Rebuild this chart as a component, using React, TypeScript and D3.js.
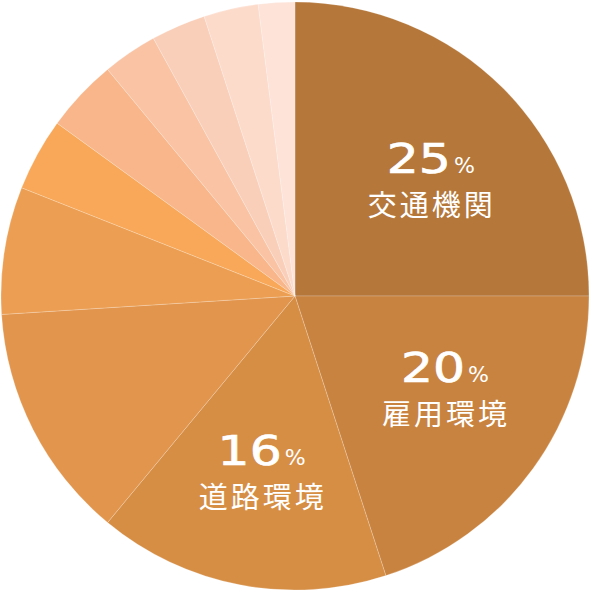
import React from "react";
import * as d3 from "d3";

const categories = ["交通機関", "雇用環境", "道路環境", "", "", "", "", "", "", "", ""];
const values = [25, 20, 16, 13, 7, 4, 4, 3, 3, 3, 2];
const colors = [
  "#B5773A", "#C98340", "#D68E45", "#E2954D", "#EC9F53", "#F8A858",
  "#F8B68A", "#F9C3A4", "#FACFB9", "#FCDBCB", "#FDE3D8",
];
const showLabel = [true, true, true, false, false, false, false, false, false, false, false];
// small layout nudges for the labels (dx, dy)
const labelNudge: [number, number][] = [[10, 12], [6, -10], [0, 3]];

const W = 592, H = 592;
const cx = 295, cy = 296, R = 294;

export default function App() {
  const data = values.map((v, i) => ({ v, i }));
  const pie = d3.pie<{ v: number; i: number }>().value((d) => d.v).sort(null);
  const arcs = pie(data);
  const arc = d3.arc<d3.PieArcDatum<{ v: number; i: number }>>().innerRadius(0).outerRadius(R);
  const labelArc = d3.arc<d3.PieArcDatum<{ v: number; i: number }>>().innerRadius(178).outerRadius(178);

  const numScale = 1.26;
  const numW = 2 * 0.636 * 40 * numScale;
  const pctW = 21;
  const gap = 3;
  const total = numW + gap + pctW;

  return (
    <svg width={W} height={H} style={{ position: "absolute", left: 0, top: 0 }}>
      <g transform={`translate(${cx},${cy})`}>
        {arcs.map((a, k) => (
          <path key={k} d={arc(a) || ""} fill={colors[a.data.i]} stroke="#ffffff" strokeOpacity={0.35} strokeWidth={0.6} />
        ))}
        {arcs.map((a, k) => {
          const i = a.data.i;
          if (!showLabel[i]) return null;
          const [x, y] = labelArc.centroid(a);
          const [nx, ny] = labelNudge[i] || [0, 0];
          return (
            <g key={"l" + k} transform={`translate(${x + nx},${y + ny})`} fill="#ffffff">
              <text
                transform={`translate(${-total / 2 + numW},-9) scale(${numScale},1)`}
                textAnchor="end"
                fontFamily="'DejaVu Sans', sans-serif"
                fontSize={40}
                stroke="#ffffff"
                strokeWidth={0.7}
              >
                {a.data.v}
              </text>
              <text
                x={-total / 2 + numW + gap}
                y={-9}
                textAnchor="start"
                fontFamily="'DejaVu Sans', sans-serif"
                fontSize={22}
              >
                %
              </text>
              <text
                x={1}
                y={34}
                textAnchor="middle"
                fontFamily="'Noto Sans CJK JP', sans-serif"
                fontWeight={400}
                fontSize={29}
                letterSpacing={3}
              >
                {categories[i]}
              </text>
            </g>
          );
        })}
      </g>
    </svg>
  );
}
